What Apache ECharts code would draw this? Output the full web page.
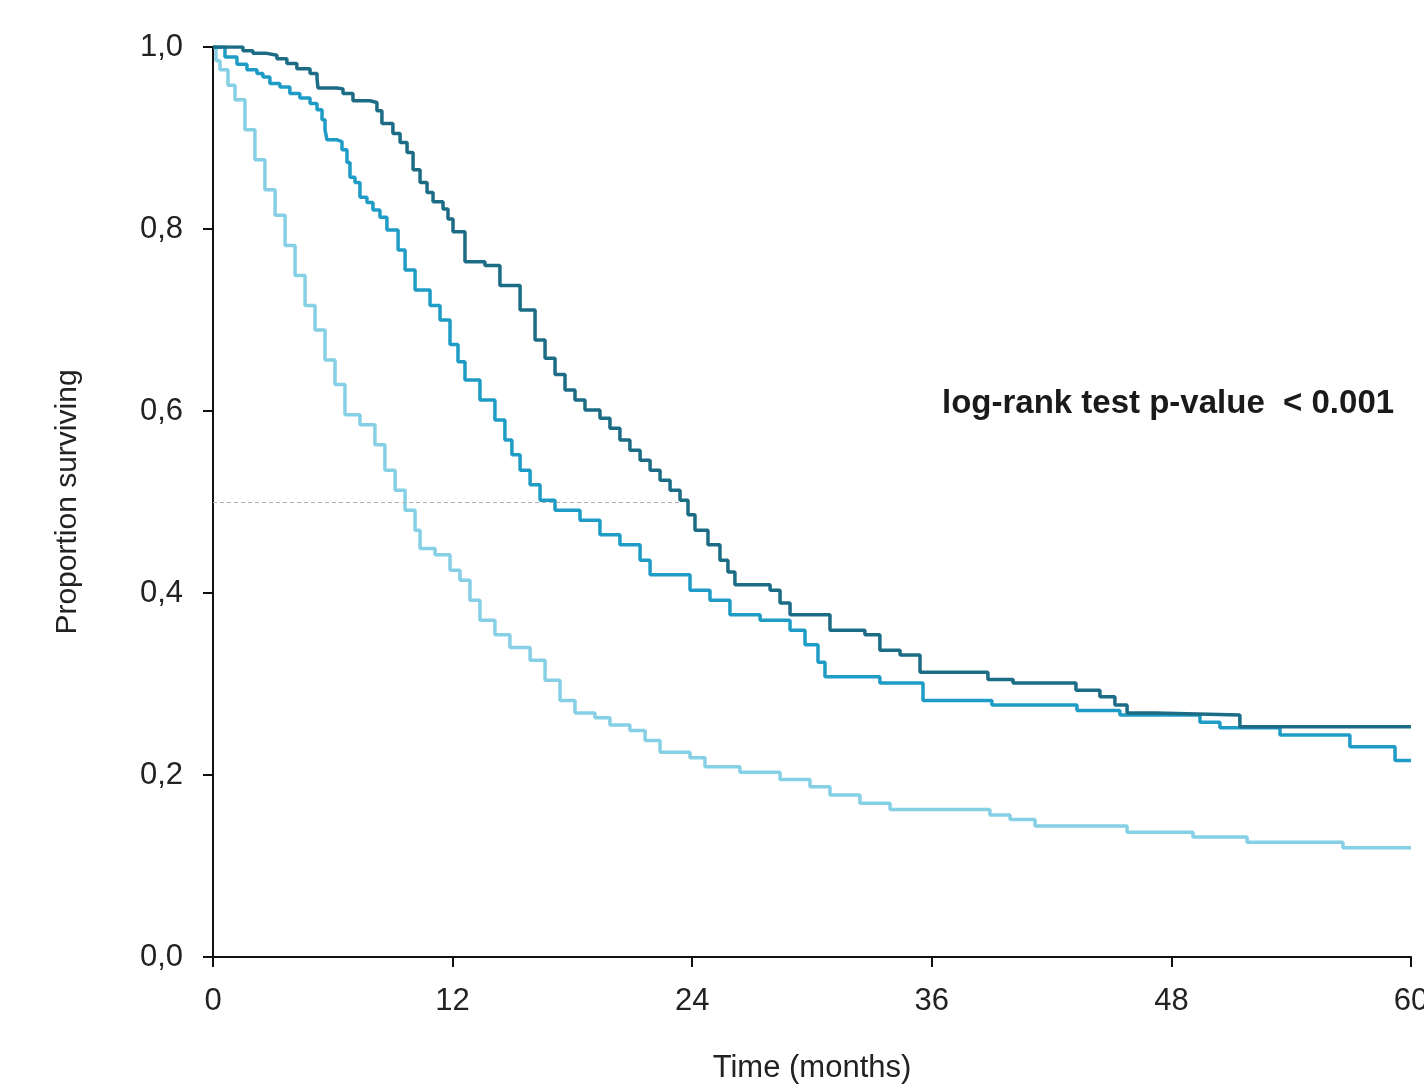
<!DOCTYPE html>
<html>
<head>
<meta charset="utf-8">
<script src="https://cdn.jsdelivr.net/npm/echarts@6/dist/echarts.min.js"></script>
<style>
  html, body { margin: 0; padding: 0; background: #fff; overflow: hidden; }
  #chart { width: 1424px; height: 1090px; }
</style>
</head>
<body>
<div id="chart"></div>
<script>
// Kaplan-Meier curves (time in months, proportion surviving)
var darkTimes = [0, 1.5, 2.0, 2.7, 3.2, 3.7, 4.2, 4.86, 5.21, 5.26, 6.21, 6.51, 7.01, 7.86, 8.21, 8.46, 9.01,
  9.37, 9.72, 10.02, 10.37, 10.72, 11.02, 11.52, 11.77, 12.02, 12.62,
  13.62, 14.37, 15.38, 16.13, 16.63, 17.13, 17.63, 18.13, 18.63, 19.38, 19.88, 20.38, 20.88, 21.39, 21.89,
  22.39, 22.89, 23.39, 23.79, 24.14, 24.79, 25.39, 25.79, 26.14, 27.9, 28.4, 28.9, 30.9, 32.65, 33.4, 34.41,
  35.41, 38.81, 40.07, 43.22, 44.42, 45.17, 45.78, 47.23, 51.43, 60];
var darkSurv = [1.0, 0.996, 0.993, 0.991, 0.987, 0.982, 0.976, 0.971, 0.965, 0.955, 0.954, 0.949, 0.941, 0.939, 0.93, 0.916, 0.905,
  0.895, 0.884, 0.865, 0.851, 0.84, 0.83, 0.822, 0.811, 0.797, 0.764,
  0.76, 0.738, 0.711, 0.678, 0.658, 0.64, 0.623, 0.612, 0.601, 0.592, 0.581, 0.568, 0.557, 0.546, 0.535,
  0.524, 0.513, 0.502, 0.486, 0.469, 0.453, 0.436, 0.423, 0.409, 0.403, 0.389, 0.376, 0.359, 0.354, 0.337, 0.332,
  0.313, 0.305, 0.301, 0.293, 0.286, 0.277, 0.268, 0.266, 0.253, 0.253];

var midTimes = [0, 0.6, 1.2, 1.7, 2.2, 2.5, 2.85, 3.35, 3.85, 4.35, 4.86, 5.21, 5.46, 5.61, 5.71, 6.21, 6.46,
  6.71, 6.86, 7.11, 7.36, 7.71, 8.01, 8.36, 8.71, 9.27, 9.62, 10.12,
  10.87, 11.37, 11.87, 12.27, 12.62, 13.37, 14.12, 14.62, 14.97, 15.38, 15.88, 16.38, 17.13, 18.38, 19.38,
  20.38, 21.39, 21.89, 23.89, 24.89, 25.89, 27.4, 28.9, 29.65, 30.3, 30.65, 33.4, 35.56, 39.01, 43.27, 45.42,
  49.43, 50.43, 53.44, 56.94, 59.2, 60];
var midSurv = [1.0, 0.989, 0.981, 0.975, 0.971, 0.967, 0.96, 0.956, 0.949, 0.944, 0.938, 0.931, 0.92, 0.909, 0.898, 0.896, 0.887,
  0.873, 0.857, 0.851, 0.835, 0.829, 0.821, 0.813, 0.799, 0.777, 0.755, 0.733,
  0.716, 0.7, 0.673, 0.654, 0.634, 0.612, 0.59, 0.568, 0.552, 0.535, 0.519, 0.502, 0.491, 0.48, 0.464,
  0.453, 0.436, 0.42, 0.403, 0.392, 0.376, 0.37, 0.359, 0.343, 0.324, 0.308, 0.301, 0.282, 0.277, 0.271, 0.266,
  0.258, 0.252, 0.244, 0.231, 0.216, 0.216];

var lightTimes = [0, 0.15, 0.35, 0.75, 1.1, 1.6, 2.1, 2.6, 3.11, 3.61, 4.11, 4.61, 5.11, 5.61, 6.11, 6.61, 7.36, 8.11,
  8.61, 9.12, 9.62, 10.12, 10.37, 11.12, 11.87, 12.37, 12.87, 13.37, 14.12, 14.87, 15.88, 16.63, 17.38, 18.13,
  19.13, 19.88, 20.88, 21.64, 22.39, 23.89, 24.64, 26.39, 28.4, 29.9, 30.9, 32.4, 33.91, 38.91, 39.92, 41.17,
  45.78, 49.08, 51.79, 56.59, 60];
var lightSurv = [1.0, 0.985, 0.975, 0.958, 0.942, 0.909, 0.876, 0.843, 0.815, 0.782, 0.749, 0.716, 0.689, 0.656, 0.629, 0.596, 0.585, 0.563,
  0.535, 0.513, 0.491, 0.469, 0.449, 0.442, 0.425, 0.414, 0.392, 0.37, 0.354, 0.34, 0.326, 0.304, 0.282, 0.268,
  0.263, 0.255, 0.249, 0.238, 0.225, 0.219, 0.209, 0.203, 0.195, 0.187, 0.178, 0.169, 0.162, 0.156, 0.151, 0.144,
  0.137, 0.132, 0.126, 0.12, 0.12];

// median reference line (y = 0.5, from 0 to ~23.4 months)
var medianLine = [0, 23.4];
var medianValue = 0.5;

var xTicks = [0, 12, 24, 36, 48, 60];

function pairs(t, s) {
  return t.map(function (v, i) { return [v, s[i]]; });
}

var chart = echarts.init(document.getElementById('chart'));
var labelFont = '"Liberation Sans", Arial, sans-serif';

var option = {
  backgroundColor: '#fff',
  animation: false,
  grid: { left: 213, right: 13, top: 47, bottom: 133, outerBoundsMode: 'none', containLabel: false },
  xAxis: {
    type: 'value', min: 0, max: 60, interval: 12,
    name: 'Time (months)', nameLocation: 'middle', nameGap: 96,
    nameTextStyle: { fontFamily: labelFont, fontSize: 31, color: '#222' },
    axisLine: { lineStyle: { color: '#111', width: 2 } },
    axisTick: { show: true, length: 10, lineStyle: { color: '#111', width: 2 } },
    axisLabel: { margin: 29, fontFamily: labelFont, fontSize: 31, color: '#222',
      formatter: function (v) { return xTicks.indexOf(v) >= 0 ? String(v) : ''; } },
    splitLine: { show: false }
  },
  yAxis: {
    type: 'value', min: 0, max: 1, interval: 0.2,
    name: 'Proportion surviving', nameLocation: 'middle', nameGap: 130,
    nameTextStyle: { fontFamily: labelFont, fontSize: 30, color: '#222' },
    axisLine: { show: true, lineStyle: { color: '#111', width: 2 } },
    axisTick: { show: true, length: 10, lineStyle: { color: '#111', width: 2 } },
    axisLabel: { margin: 30, fontFamily: labelFont, fontSize: 31, color: '#222',
      formatter: function (v) { return v.toFixed(1).replace('.', ','); } },
    splitLine: { show: false }
  },
  graphic: [{
    type: 'text', left: 942, top: 387,
    style: { text: 'log-rank test p-value  < 0.001', fontFamily: labelFont,
      fontWeight: 'bold', fontSize: 33, fill: '#1a1a1a' }
  }],
  series: [
    {
      name: 'light', type: 'line', step: 'end', showSymbol: false,
      data: pairs(lightTimes, lightSurv),
      lineStyle: { color: '#86d0e6', width: 3.5 }, z: 2,
      markLine: {
        silent: true, symbol: 'none', label: { show: false },
        lineStyle: { color: '#b0b0b0', width: 1.2, type: [4, 3] },
        data: [[{ coord: [medianLine[0], medianValue] }, { coord: [medianLine[1], medianValue] }]]
      }
    },
    {
      name: 'mid', type: 'line', step: 'end', showSymbol: false,
      data: pairs(midTimes, midSurv),
      lineStyle: { color: '#1f9cc6', width: 3.5 }, z: 3
    },
    {
      name: 'dark', type: 'line', step: 'end', showSymbol: false,
      data: pairs(darkTimes, darkSurv),
      lineStyle: { color: '#1c6c86', width: 3.5 }, z: 4
    }
  ]
};

chart.setOption(option);
</script>
</body>
</html>
